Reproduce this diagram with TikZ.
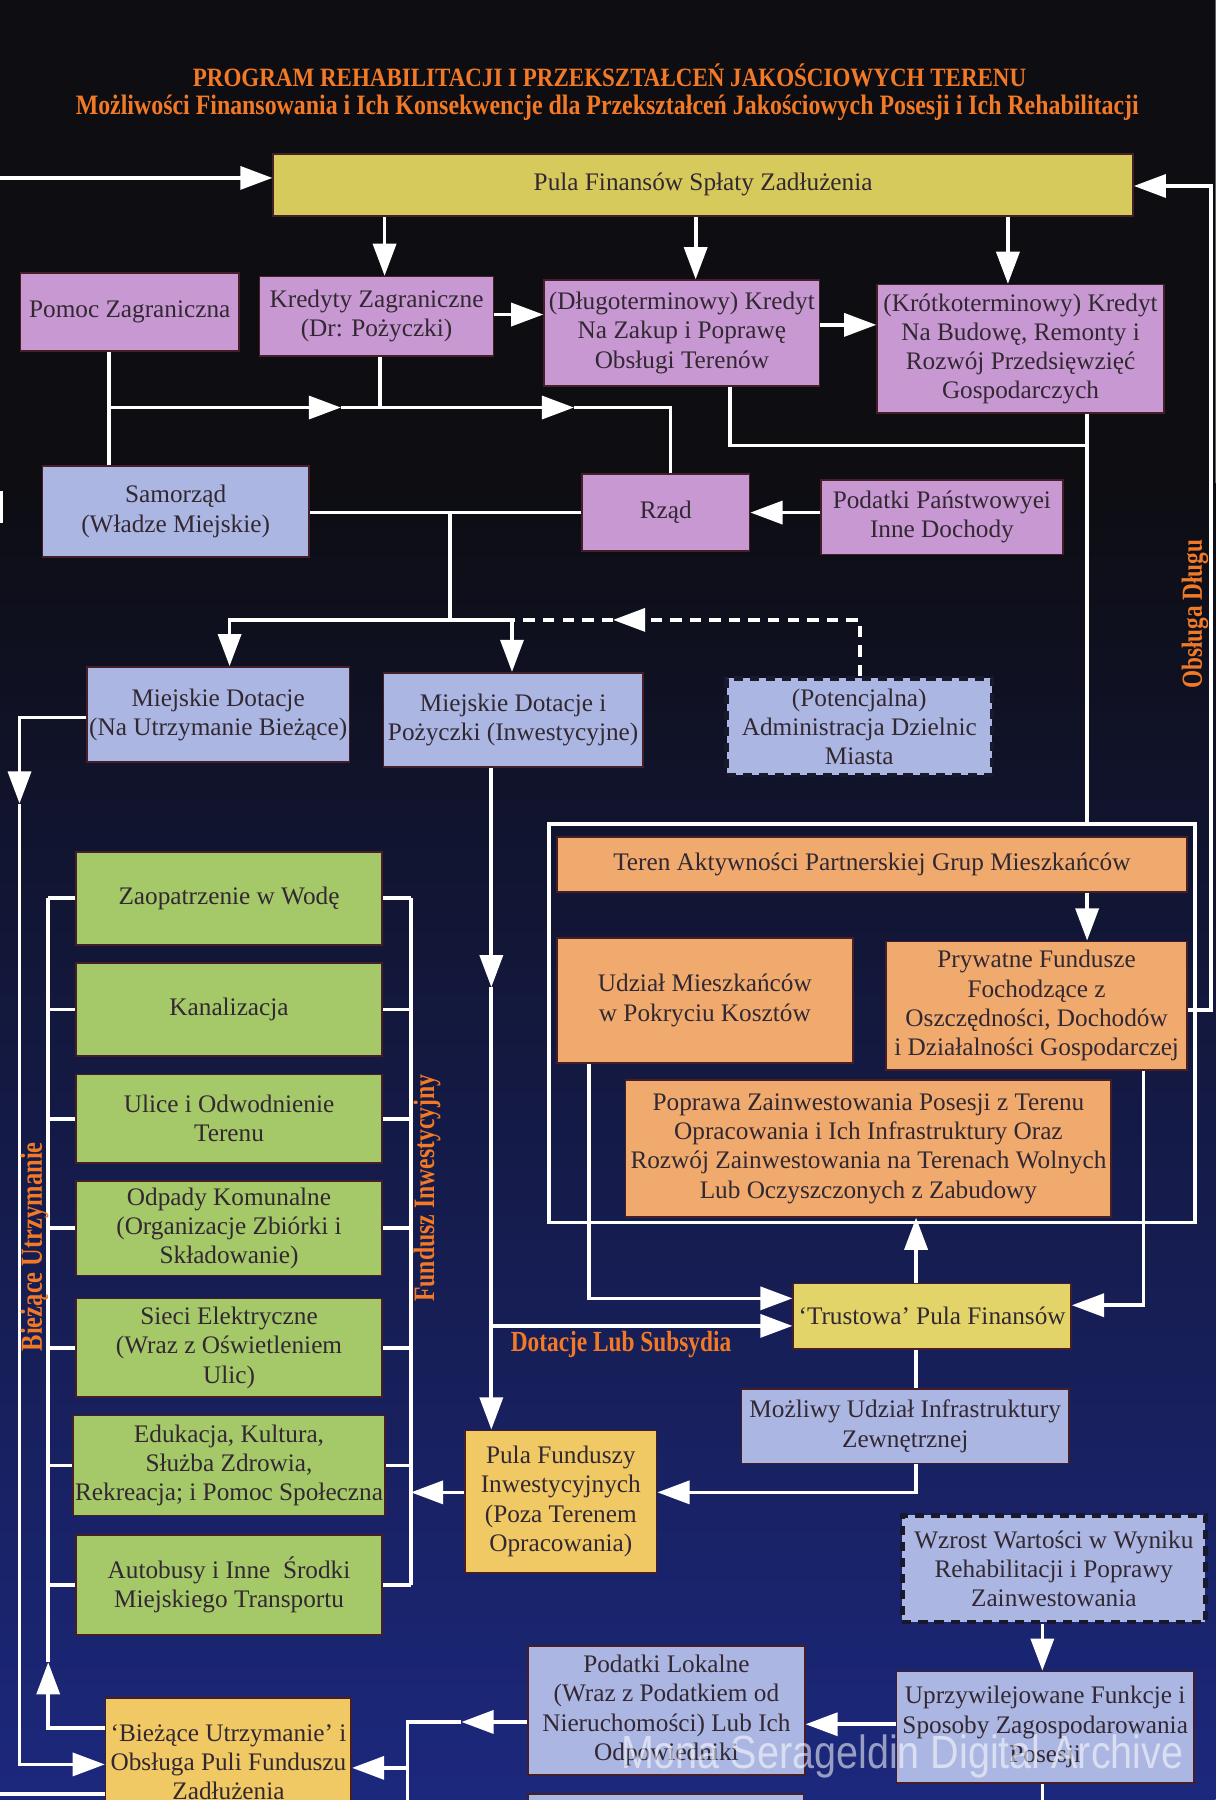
\documentclass[tikz,border=0pt]{standalone}
\usepackage{graphicx}
\usepackage{fontspec}
\setmainfont{Liberation Serif}
\newfontfamily\wmfont{Liberation Sans}
\usetikzlibrary{arrows.meta}
\definecolor{bgtop}{RGB}{13,13,18}
\definecolor{bgbot}{RGB}{28,40,125}
\definecolor{cyel}{RGB}{214,202,92}
\definecolor{cpink}{RGB}{200,152,210}
\definecolor{cblue}{RGB}{172,182,226}
\definecolor{cgreen}{RGB}{165,200,105}
\definecolor{corange}{RGB}{240,170,110}
\definecolor{cgold}{RGB}{240,200,100}
\definecolor{ctrust}{RGB}{226,212,105}
\definecolor{ctext}{RGB}{50,40,50}
\definecolor{clabel}{RGB}{242,122,38}
\definecolor{cedge}{RGB}{70,30,40}
\definecolor{cdash}{RGB}{25,25,45}
\newcommand\cond[3][0.8]{\resizebox{#2}{!}{\scalebox{#1}[1]{#3}}}
\newcommand\mybox[7]{\node[bx,#6,minimum width={(#4-#2)*0.5pt},minimum height={(#5-#3)*0.5pt}] (#1) at ({(#2+#4)/2},{(#3+#5)/2}) {#7};}
\tikzset{
 bx/.style={draw=cedge, line width=0.7pt, text=ctext, align=center, inner sep=1pt, font=\fontsize{11}{12.75}\selectfont},
 dbx/.style={draw=cdash, dash pattern=on 4pt off 3pt, line width=2pt},
 wl/.style={draw=white, line width=1.6pt},
 arr/.style={-{Triangle[length=14pt,width=10pt]}},
 dsh/.style={dash pattern=on 5pt off 3.5pt},
 lbl/.style={text=clabel, font=\fontsize{11}{13}\selectfont\bfseries, inner sep=0pt},
}
\begin{document}
\begin{tikzpicture}[x=0.5pt,y=-0.5pt]
\useasboundingbox (0,0) rectangle (1059,1568);
\clip (0,0) rectangle (1059,1568);
% background
\fill[bgtop] (0,0) rectangle (1059,420);
\shade[top color=bgtop, bottom color=bgbot] (0,420) rectangle (1059,1568);

% titles
\node[lbl] (t1) at (531,66) {\cond[0.87]{363pt}{PROGRAM REHABILITACJI I PRZEKSZTAŁCEŃ JAKOŚCIOWYCH TERENU}};
\node[lbl] (t2) at (529,94) {\cond[0.85]{463pt}{Możliwości Finansowania i Ich Konsekwencje dla Przekształceń Jakościowych Posesji i Ich Rehabilitacji}};

% frame around resident group
\draw[wl] (478,718) rectangle (1041,1065);

% boxes
\mybox{pula}{238}{134}{987}{188}{fill=cyel}{Pula Finansów Spłaty Zadłużenia}
\mybox{pomoc}{18}{238}{208}{306}{fill=cpink}{Pomoc Zagraniczna}
\mybox{kz}{226}{241}{430}{310}{fill=cpink}{Kredyty Zagraniczne\\(Dr: Pożyczki)}
\mybox{dlugo}{474}{244}{714}{336}{fill=cpink}{(Długoterminowy) Kredyt\\Na Zakup i Poprawę\\Obsługi Terenów}
\mybox{krotko}{764}{248}{1014}{360}{fill=cpink}{(Krótkoterminowy) Kredyt\\Na Budowę, Remonty i\\Rozwój Przedsięwzięć\\Gospodarczych}
\mybox{samorzad}{37}{406}{269}{485}{fill=cblue}{Samorząd\\(Władze Miejskie)}
\mybox{rzad}{507}{413}{653}{480}{fill=cpink}{Rząd}
\mybox{podp}{715}{418}{926}{483}{fill=cpink}{Podatki Państwowyei\\Inne Dochody}
\mybox{mdot1}{76}{581}{304}{664}{fill=cblue}{Miejskie Dotacje\\(Na Utrzymanie Bieżące)}
\mybox{mdot2}{334}{586}{560}{668}{fill=cblue}{Miejskie Dotacje i\\Pożyczki (Inwestycyjne)}
\mybox{potenc}{633}{591}{864}{675}{dbx,fill=cblue}{(Potencjalna)\\Administracja Dzielnic\\Miasta}
\mybox{teren}{485}{729}{1034}{777}{fill=corange}{Teren Aktywności Partnerskiej Grup Mieszkańców}
\mybox{udzial}{485}{817}{743}{926}{fill=corange}{Udział Mieszkańców\\w Pokryciu Kosztów}
\mybox{prywatne}{772}{820}{1034}{932}{fill=corange}{Prywatne Fundusze\\Fochodzące z\\Oszczędności, Dochodów\\i Działalności Gospodarczej}
\mybox{poprawa}{545}{941}{968}{1060}{fill=corange}{Poprawa Zainwestowania Posesji z Terenu\\Opracowania i Ich Infrastruktury Oraz\\Rozwój Zainwestowania na Terenach Wolnych\\Lub Oczyszczonych z Zabudowy}
\mybox{trust}{691}{1118}{933}{1175}{fill=ctrust}{‘Trustowa’ Pula Finansów}
\mybox{mozliwy}{646}{1210}{931}{1275}{fill=cblue}{Możliwy Udział Infrastruktury\\Zewnętrznej}
\mybox{pulaF}{405}{1246}{572}{1370}{fill=cgold}{Pula Funduszy\\Inwestycyjnych\\(Poza Terenem\\Opracowania)}
\mybox{wzrost}{786}{1320}{1050}{1413}{dbx,fill=cblue}{Wzrost Wartości w Wyniku\\Rehabilitacji i Poprawy\\Zainwestowania}
\mybox{uprz}{781}{1456}{1040}{1553}{fill=cblue}{Uprzywilejowane Funkcje i\\Sposoby Zagospodarowania\\Posesji}
\mybox{podL}{460}{1434}{701}{1546}{fill=cblue}{Podatki Lokalne\\(Wraz z Podatkiem od\\Nieruchomości) Lub Ich\\Odpowiedniki}
\mybox{biez}{92}{1479}{306}{1591}{fill=cgold}{‘Bieżące Utrzymanie’ i\\Obsługa Puli Funduszu\\Zadłużenia}
\mybox{extra}{460}{1563}{700}{1620}{fill=cblue}{}
\mybox{g1}{66}{742}{333}{823}{fill=cgreen}{Zaopatrzenie w Wodę}
\mybox{g2}{66}{839}{333}{920}{fill=cgreen}{Kanalizacja}
\mybox{g3}{66}{936}{333}{1013}{fill=cgreen}{Ulice i Odwodnienie\\Terenu}
\mybox{g4}{66}{1029}{333}{1111}{fill=cgreen}{Odpady Komunalne\\(Organizacje Zbiórki i\\Składowanie)}
\mybox{g5}{66}{1131}{333}{1217}{fill=cgreen}{Sieci Elektryczne\\(Wraz z Oświetleniem\\Ulic)}
\mybox{g6}{66}{1233}{333}{1320}{fill=cgreen}{Edukacja, Kultura,\\Służba Zdrowia,\\Rekreacja; i Pomoc Społeczna}
\mybox{g7}{66}{1337}{333}{1424}{fill=cgreen}{Autobusy i Inne \ Środki\\Miejskiego Transportu}

% guide coordinates
\coordinate (inL) at (0,155);
\coordinate (ob1) at (1055,880);
\coordinate (ob2) at (1055,162);
\coordinate (v95) at (95,0);   \coordinate (v331) at (331,0); \coordinate (v335) at (335,0);
\coordinate (v606) at (606,0); \coordinate (v878) at (878,0); \coordinate (v584) at (584,0);
\coordinate (v297) at (297,0); \coordinate (v500) at (500,0); \coordinate (v636) at (636,0);
\coordinate (v947) at (947,0); \coordinate (v392) at (392,0); \coordinate (v200) at (200,0);
\coordinate (v446) at (446,0); \coordinate (v750) at (749,0); \coordinate (v534) at (534,0);
\coordinate (v428) at (428,0); \coordinate (v17) at (17,0);   \coordinate (v42) at (42,0);
\coordinate (v358) at (358,0); \coordinate (v513) at (513,0); \coordinate (v996) at (996,0);
\coordinate (v798) at (798,0); \coordinate (v908) at (908,0); \coordinate (v402) at (402,0);
\coordinate (v355) at (355,0);
\coordinate (h274) at (0,274); \coordinate (h283) at (0,283); \coordinate (h355) at (0,355);
\coordinate (h388) at (0,388); \coordinate (h718) at (0,718); \coordinate (h540) at (0,540);
\coordinate (h625) at (0,625); \coordinate (h700) at (0,700); \coordinate (h1537) at (0,1537);
\coordinate (h1505) at (0,1505); \coordinate (h1448) at (0,1448); \coordinate (h1300) at (0,1300);
\coordinate (h860) at (0,860); \coordinate (h1155) at (0,1155); \coordinate (h1131) at (0,1131);
\coordinate (h1137) at (0,1137); \coordinate (h1502) at (0,1502); \coordinate (h1500) at (0,1500);
\coordinate (h1540) at (0,1540); \coordinate (h1563) at (0,1563); \coordinate (hbot) at (0,1580);
\coordinate (edgeA) at (1,428); \coordinate (edgeB) at (1,456); \coordinate (leftB) at (0,1563);

% connectors: top
\draw[wl,arr] (inL) -- (inL -| pula.west);
\draw[wl,arr] (prywatne.east |- ob1) -- (ob1) -- (ob2) -- (ob2 -| pula.east);
\draw[wl,arr] (pula.south -| v335) -- (kz.north -| v335);
\draw[wl,arr] (pula.south -| v606) -- (dlugo.north -| v606);
\draw[wl,arr] (pula.south -| v878) -- (krotko.north -| v878);
\draw[wl,arr] (kz.east |- h274) -- (dlugo.west |- h274);
\draw[wl,arr] (dlugo.east |- h283) -- (krotko.west |- h283);
\draw[wl] (pomoc.south -| v95) -- (samorzad.north -| v95);
\draw[wl] (kz.south -| v331) -- (v331 |- h355);
\draw[wl,arr] (v95 |- h355) -- (v297 |- h355);
\draw[wl,arr] (v297 |- h355) -- (v500 |- h355);
\draw[wl] (v500 |- h355) -| (rzad.north -| v584);
\draw[wl] (dlugo.south -| v636) |- (v947 |- h388);
\draw[wl] (krotko.south -| v947) -- (v947 |- h718);
\draw[wl] (edgeA) -- (edgeB);

% government and city
\draw[wl] (samorzad.east |- rzad.west) -- (rzad.west);
\draw[wl,arr] (podp.west |- rzad.east) -- (rzad.east);
\draw[wl] (v392 |- rzad.west) -- (v392 |- h540);
\draw[wl,arr] (v392 |- h540) -| (mdot1.north -| v200);
\draw[wl,arr] (v392 |- h540) -| (mdot2.north -| v446);
\draw[wl,dsh,arr] (potenc.north -| v750) |- (v534 |- h540);
\draw[wl,dsh] (v534 |- h540) -- (v446 |- h540);

% resident group
\draw[wl,arr] (teren.south -| v947) -- (prywatne.north -| v947);
\draw[wl,arr] (udzial.south -| v513) |- (trust.west |- h1131);
\draw[wl,arr] (prywatne.south -| v996) |- (trust.east |- h1137);
\draw[wl,arr] (trust.north -| v798) -- (poprawa.south -| v798);
\draw[wl] (trust.south -| v798) -- (mozliwy.north -| v798);
\draw[wl,arr] (mozliwy.south -| v798) |- (pulaF.east |- h1300);

% investment funds
\draw[wl,arr] (mdot2.south -| v428) -- (v428 |- h860);
\draw[wl,arr] (v428 |- h860) -- (pulaF.north -| v428);
\draw[wl,arr] (v428 |- h1155) -- (trust.west |- h1155);
\draw[wl,arr] (pulaF.west |- h1300) -- (v358 |- h1300);
\draw[wl] (v358 |- g1.east) -- (v358 |- g7.east);
\foreach \g in {g1,g2,g3,g4,g5,g6,g7}{
  \draw[wl] (\g.east) -- (v358 |- \g.east);
  \draw[wl] (\g.west) -- (v42 |- \g.west);
}

% current maintenance
\draw[wl,arr] (mdot1.west |- h625) -| (v17 |- h700);
\draw[wl,arr] (v17 |- h700) |- (biez.west |- h1537);
\draw[wl,arr] (biez.west |- h1505) -| (v42 |- h1448);
\draw[wl] (v42 |- h1448) -- (v42 |- g1.west);
\draw[wl] (leftB) -- (biez.west |- h1563);

% bottom right
\draw[wl,arr] (wzrost.south -| v908) -- (uprz.north -| v908);
\draw[wl,arr] (uprz.west |- h1502) -- (podL.east |- h1502);
\draw[wl] (uprz.south -| v908) -- (v908 |- hbot);
\draw[wl,arr] (podL.west |- h1500) -- (v402 |- h1500);
\draw[wl] (v402 |- h1500) -| (v355 |- hbot);
\draw[wl,arr] (v355 |- h1540) -- (biez.east |- h1540);

% labels
\node[lbl, rotate=90] (lobs) at (1041,535) {\cond{65pt}{Obsługa Długu}};
\node[lbl, rotate=90] (lfund) at (372,1035) {\cond{99pt}{Fundusz Inwestycyjny}};
\node[lbl, rotate=90] (lbiez) at (30,1086) {\cond{91pt}{Bieżące Utrzymanie}};
\node[lbl] (ldot) at (541,1171) {\cond{96pt}{Dotacje Lub Subsydia}};

% watermark
\node[text=white, opacity=0.55, font=\wmfont\fontsize{14}{16}\selectfont, inner sep=0pt] (wm) at (786,1530) {\cond[0.85]{245pt}{Mona Serageldin Digital Archive}};
\end{tikzpicture}
\end{document}
